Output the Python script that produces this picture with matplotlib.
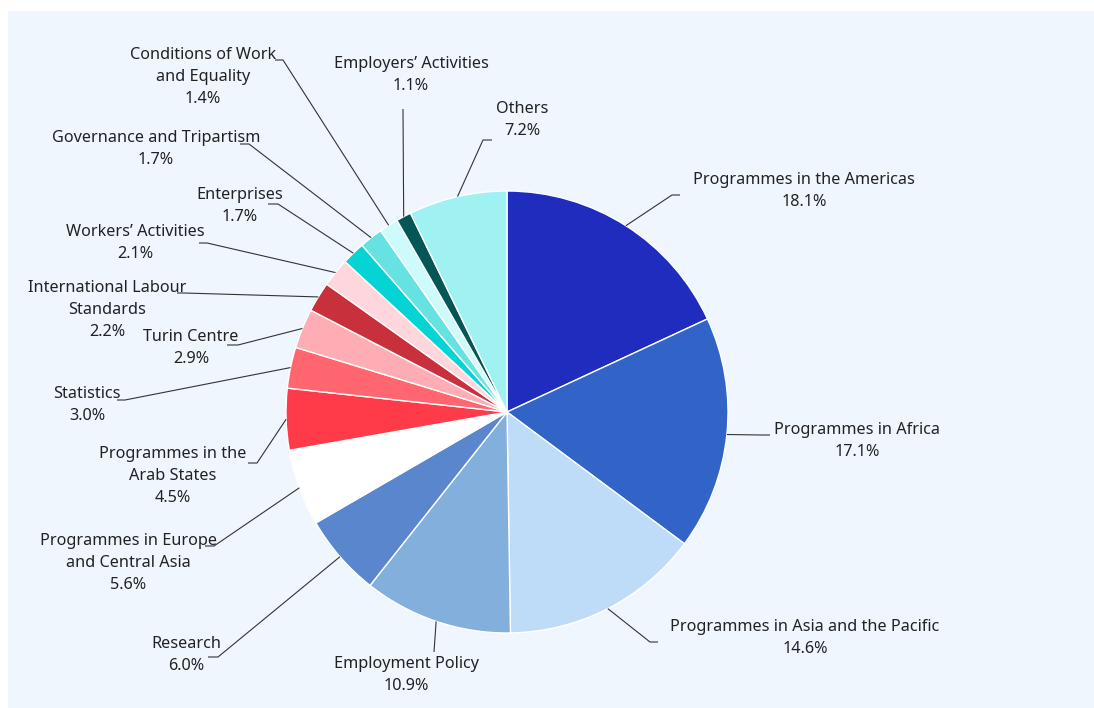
import matplotlib
matplotlib.use("Agg")
import matplotlib.pyplot as plt
from matplotlib.patches import Rectangle
import numpy as np

# Budget share by programme area (%)
categories = [
    "Programmes in the Americas",
    "Programmes in Africa",
    "Programmes in Asia and the Pacific",
    "Employment Policy",
    "Research",
    "Programmes in Europe\nand Central Asia",
    "Programmes in the\nArab States",
    "Statistics",
    "Turin Centre",
    "International Labour\nStandards",
    "Workers\u2019 Activities",
    "Enterprises",
    "Governance and Tripartism",
    "Conditions of Work\nand Equality",
    "Employers\u2019 Activities",
    "Others",
]
shares = [18.1, 17.1, 14.6, 10.9, 6.0, 5.6, 4.5, 3.0, 2.9, 2.2, 2.1, 1.7, 1.7, 1.4, 1.1, 7.2]
colors = [
    "#1f2cbd", "#3264c8", "#bedcf8", "#82afdc", "#5a86ce", "#ffffff",
    "#ff3b4a", "#ff6670", "#ffadb4", "#c8303b", "#ffd6dc", "#06d3d3",
    "#66e2e2", "#cdfafa", "#055656", "#a0f1f1",
]

# Layout in pixel units (origin top-left)
W, H = 1094, 708
CX, CY, R = 507, 412, 221
# label block: (centre x of text, centre y of first line), leader elbow (x, y), leader end x
label_pos = [
    (804, 179), (857, 429), (805, 626), (406, 663), (186, 643), (128, 540),
    (173, 453), (87, 393), (191, 336), (107, 287), (135, 231), (240, 194),
    (156, 137), (203, 54), (411, 63), (522, 108),
]
elbows = [
    (672, 195), (760, 435), (650, 642), (434, 652), (218, 657), (214, 546),
    (257, 463), (125, 400), (238, 345), (184, 293), (207, 243), (278, 204),
    (249, 144), (283, 60), (403, 109), (483, 140),
]
ends_x = [680, 770, 658, 434, 208, 205, 248, 117, 227, 177, 199, 268, 240, 275, 403, 492]

LINE_H = 22
TEXT_COLOR = "#222222"
LEADER_COLOR = "#333333"

plt.rcParams["font.family"] = ["Noto Sans", "DejaVu Sans"]

fig = plt.figure(figsize=(W / 100, H / 100), dpi=100)
fig.patch.set_facecolor("white")
ax = fig.add_axes([0, 0, 1, 1])


def fy(y):
    return H - y


# light panel behind the chart
ax.add_patch(Rectangle((8, 0), W - 8, fy(11), facecolor="#eff6fd", edgecolor="none", zorder=0))

wedges, _ = ax.pie(
    shares,
    colors=colors,
    startangle=90,
    counterclock=False,
    center=(CX, fy(CY)),
    radius=R,
    wedgeprops=dict(edgecolor="white", linewidth=1.0),
    frame=True,
)
ax.set_xlim(0, W)
ax.set_ylim(0, H)
ax.set_aspect("equal")
ax.axis("off")
for w in wedges:
    w.set_zorder(2)

for wdg, name, val, (tx, ty), (ex, ey), hx in zip(wedges, categories, shares, label_pos, elbows, ends_x):
    mid = np.deg2rad((wdg.theta1 + wdg.theta2) / 2)
    sx = CX + R * np.cos(mid)
    sy = fy(CY) + R * np.sin(mid)
    ax.plot([sx, ex, hx], [sy, fy(ey), fy(ey)], color=LEADER_COLOR, lw=0.8,
            solid_capstyle="butt", zorder=3)
    lines = name.split("\n") + [f"{val:.1f}%"]
    for i, ln in enumerate(lines):
        ax.text(tx, fy(ty + i * LINE_H + 5), ln, ha="center", va="baseline",
                fontsize=11.7, color=TEXT_COLOR, zorder=4)

fig.savefig("out.png", dpi=100, facecolor="white")
